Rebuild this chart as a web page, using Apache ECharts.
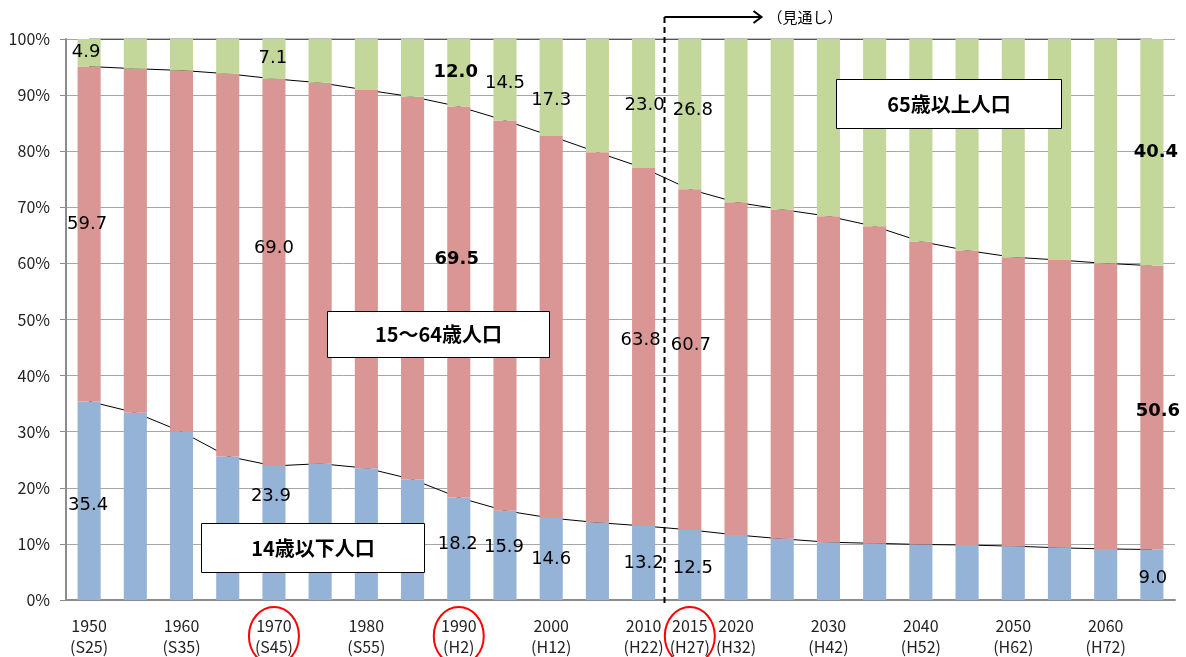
<!DOCTYPE html>
<html>
<head>
<meta charset="utf-8">
<script src="https://cdn.jsdelivr.net/npm/echarts@6/dist/echarts.min.js"></script>
<style>
  html, body { margin: 0; padding: 0; background: #fff; }
  #chart { width: 1186px; height: 657px; }
</style>
</head>
<body>
<div id="chart"></div>
<script>
// Age structure of the population (%), census years and projections
const years = ['1950','1955','1960','1965','1970','1975','1980','1985','1990','1995','2000','2005',
               '2010','2015','2020','2025','2030','2035','2040','2045','2050','2055','2060','2065'];
const tickLabels = ['1950\n(S25)','','1960\n(S35)','','1970\n(S45)','','1980\n(S55)','','1990\n(H2)','',
                    '2000\n(H12)','','2010\n(H22)','2015\n(H27)','2020\n(H32)','','2030\n(H42)','',
                    '2040\n(H52)','','2050\n(H62)','','2060\n(H72)',''];
const under15 = [35.4,33.4,30.0,25.6,23.9,24.3,23.5,21.5,18.2,15.9,14.6,13.8,
                 13.2,12.5,11.6,10.9,10.3,10.1,9.9,9.8,9.6,9.3,9.1,9.0];
const age15to64 = [59.7,61.3,64.4,68.2,69.0,67.9,67.4,68.2,69.5,69.5,68.1,66.0,
                   63.8,60.7,59.3,58.7,58.1,56.5,54.0,52.5,51.5,51.3,50.9,50.6];
const over65 = [4.9,5.3,5.6,6.2,7.1,7.8,9.1,10.3,12.0,14.5,17.3,20.2,
                23.0,26.8,29.1,30.4,31.6,33.4,36.1,37.7,38.9,39.4,40.0,40.4];
const yTicks = [0,10,20,30,40,50,60,70,80,90,100];

// 100% stacking: each year is scaled to its own total
const totals = years.map((_, i) => under15[i] + age15to64[i] + over65[i]);
const pct = arr => arr.map((v, i) => v / totals[i] * 100);
const p0 = pct(under15), p1 = pct(age15to64), p2 = pct(over65);
const cum1 = p0;
const cum2 = p0.map((v, i) => v + p1[i]);
const cum3 = cum2.map((v, i) => v + p2[i]);

// Which bars carry a value label, and how each label is nudged off the segment centre
const labelPlacement = {
  over65:   { 0: [-3, 0], 4: [-1, -1], 8: [-3, 0, true], 9: [0, 4], 10: [0, 13], 12: [1, 2], 13: [3, -4], 23: [4, 0, true] },
  age15to64:{ 0: [-2, -10], 4: [0, -24], 8: [-2, -43, true], 12: [-3, -7], 13: [1, -14], 23: [6, 4, true] },
  under15:  { 0: [-1, 5], 4: [-3, -37], 8: [-1, -4], 9: [-1, -8], 10: [0, 0], 12: [0, 0], 13: [3, 3], 23: [1, 4] }
};

const NUM_FONT = 'DejaVu Sans';
const JP_FONT = '"Noto Sans CJK JP", "Noto Sans", sans-serif';

function barData(values, raw, place) {
  return values.map((v, i) => {
    const p = place[i];
    if (!p) return { value: v, label: { show: false } };
    return {
      value: v,
      label: {
        show: true,
        position: 'inside',
        offset: [p[0], p[1]],
        formatter: raw[i].toFixed(1),
        fontFamily: NUM_FONT,
        fontSize: 18,
        fontWeight: p[2] ? 'bold' : 'normal',
        color: '#000'
      }
    };
  });
}

function seriesLine(values) {
  return {
    type: 'line', data: values, z: 1, silent: true,
    symbol: 'none', lineStyle: { color: '#000', width: 1 }
  };
}

const chart = echarts.init(document.getElementById('chart'), null, { renderer: 'canvas' });

chart.setOption({
  animation: false,
  grid: { left: 66, right: 11, top: 39, bottom: 54, containLabel: false },
  xAxis: {
    type: 'category',
    data: years,
    axisLine: { lineStyle: { color: '#8c8c8c', width: 2 } },
    axisTick: { show: false },
    axisLabel: {
      interval: 0,
      margin: 15,
      formatter: (v, i) => tickLabels[i],
      fontFamily: JP_FONT,
      fontSize: 16,
      lineHeight: 21,
      color: '#222'
    }
  },
  yAxis: {
    type: 'value',
    min: yTicks[0], max: yTicks[yTicks.length - 1], interval: 10,
    axisLine: { show: true, lineStyle: { color: '#8c8c8c', width: 2 } },
    axisTick: { show: true, length: 6, lineStyle: { color: '#8c8c8c' } },
    splitLine: { lineStyle: { color: '#a6a6a6', width: 1 } },
    axisLabel: {
      formatter: '{value}%',
      margin: 16,
      fontFamily: JP_FONT,
      fontSize: 16,
      color: '#222'
    }
  },
  series: [
    seriesLine(cum1),
    seriesLine(cum2),
    seriesLine(cum3),
    {
      name: '14歳以下人口', type: 'bar', stack: 'pop', barWidth: '50%', z: 2,
      itemStyle: { color: '#95b3d7' },
      data: barData(p0, under15, labelPlacement.under15)
    },
    {
      name: '15～64歳人口', type: 'bar', stack: 'pop', barWidth: '50%', z: 2,
      itemStyle: { color: '#da9694' },
      data: barData(p1, age15to64, labelPlacement.age15to64)
    },
    {
      name: '65歳以上人口', type: 'bar', stack: 'pop', barWidth: '50%', z: 2,
      itemStyle: { color: '#c4d79b' },
      data: barData(p2, over65, labelPlacement.over65)
    }
  ]
});

// Annotations: series name boxes, projection divider, highlighted years
function nameBox(text, x, y, w, h) {
  return {
    type: 'group', left: x, top: y, z: 100,
    children: [
      { type: 'rect', z: 100, shape: { x: 0, y: 0, width: w, height: h },
        style: { fill: '#fff', stroke: '#000', lineWidth: 1 } },
      { type: 'text', z: 101, x: w / 2, y: h / 2,
        style: { text: text, fill: '#000', font: 'bold 20px ' + JP_FONT, align: 'center', verticalAlign: 'middle' } }
    ]
  };
}

const xAt = idx => chart.convertToPixel({ xAxisIndex: 0 }, years[idx]);
const yBottom = chart.convertToPixel({ yAxisIndex: 0 }, 0);
const divX = Math.round((xAt(12) + xAt(13)) / 2) - 2.5;
const arrowY = 17;

const graphics = [
  nameBox('65歳以上人口', 836, 79, 225, 49),
  nameBox('15～64歳人口', 327, 311, 222, 46),
  nameBox('14歳以下人口', 201, 523, 223, 49),
  { type: 'line', z: 100, shape: { x1: divX, y1: arrowY, x2: divX, y2: yBottom + 6 },
    style: { stroke: '#000', lineWidth: 2, lineDash: [6, 4] } },
  { type: 'line', z: 100, shape: { x1: divX, y1: arrowY, x2: divX + 97, y2: arrowY },
    style: { stroke: '#000', lineWidth: 2 } },
  { type: 'polyline', z: 100, shape: { points: [[divX + 89, arrowY - 6], [divX + 97, arrowY], [divX + 89, arrowY + 6]] },
    style: { stroke: '#000', lineWidth: 2, fill: 'none' } },
  { type: 'text', z: 100, x: divX + 103, y: arrowY,
    style: { text: '（見通し）', fill: '#000', font: '15px ' + JP_FONT, verticalAlign: 'middle' } }
];

[4, 8, 13].forEach(idx => {
  graphics.push({
    type: 'ellipse', z: 100,
    shape: { cx: xAt(idx), cy: 636, rx: 25, ry: 29 },
    style: { stroke: '#ff0000', lineWidth: 2, fill: 'none' }
  });
});

chart.setOption({ graphic: graphics });
</script>
</body>
</html>
